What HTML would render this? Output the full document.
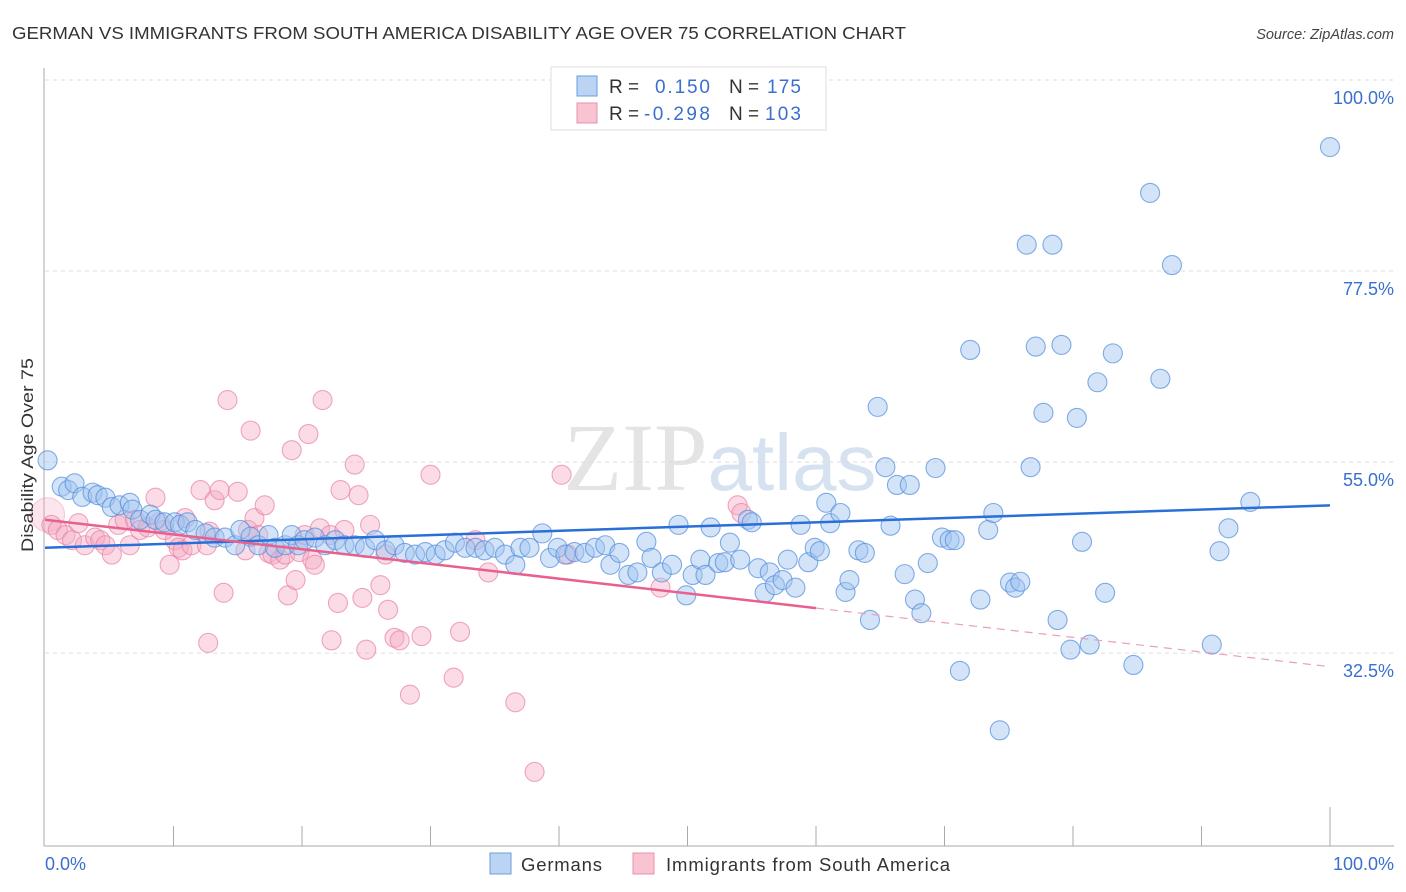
<!DOCTYPE html>
<html><head><meta charset="utf-8"><style>
body{margin:0;background:#fff;font-family:"Liberation Sans",sans-serif}
svg{display:block}
</style></head><body>
<svg id="chart" width="1406" height="892" xmlns="http://www.w3.org/2000/svg">
<text x="12" y="39" font-size="17.5" fill="#333" textLength="894" lengthAdjust="spacingAndGlyphs">GERMAN VS IMMIGRANTS FROM SOUTH AMERICA DISABILITY AGE OVER 75 CORRELATION CHART</text>
<text x="1394" y="39" font-size="14.5" fill="#444" font-style="italic" text-anchor="end">Source: ZipAtlas.com</text>
<text x="720" y="490" font-size="96" fill="#e4e4e4" text-anchor="middle" font-family="Liberation Serif, serif">ZIP<tspan fill="#d6e2f0" font-family="Liberation Sans, sans-serif" font-size="80">atlas</tspan></text>
<g id="grid"></g>
<g id="axes"></g>
<g id="pts"></g>
<g id="trends"></g>
<text transform="translate(33,455) rotate(-90)" font-size="17" fill="#333" text-anchor="middle" textLength="194" lengthAdjust="spacingAndGlyphs">Disability Age Over 75</text>
<text x="45" y="870" font-size="18" fill="#3a6fd0">0.0%</text>
<text x="1394" y="870" font-size="18" fill="#3a6fd0" text-anchor="end">100.0%</text>
<g>
<rect x="551" y="67" width="275" height="63" fill="#fff" stroke="#ddd"/>
<rect x="577" y="76" width="20" height="20" fill="#bcd4f4" stroke="#6a9ee0"/>
<rect x="577" y="103" width="20" height="20" fill="#f8c4d2" stroke="#e890ac"/>
<text x="609" y="93" font-size="19" fill="#333">R =</text>
<text x="655" y="93" font-size="19" fill="#3a6fd0" textLength="55">0.150</text>
<text x="729" y="93" font-size="19" fill="#333">N =</text>
<text x="767" y="93" font-size="19" fill="#3a6fd0" textLength="34">175</text>
<text x="609" y="120" font-size="19" fill="#333">R =</text>
<text x="644" y="120" font-size="19" fill="#3a6fd0" textLength="66">-0.298</text>
<text x="729" y="120" font-size="19" fill="#333">N =</text>
<text x="765" y="120" font-size="19" fill="#3a6fd0" textLength="36">103</text>
</g>
<g>
<rect x="490" y="853" width="21" height="21" fill="#bcd4f4" stroke="#6a9ee0"/>
<text x="521" y="871" font-size="18.5" fill="#333" textLength="81">Germans</text>
<rect x="633" y="853" width="21" height="21" fill="#f8c4d2" stroke="#e890ac"/>
<text x="666" y="871" font-size="18.5" fill="#333" textLength="284">Immigrants from South America</text>
</g>
</svg>
<script>
const yTicks=[100,77.5,55,32.5];
const yTickLabels=["100.0%","77.5%","55.0%","32.5%"];
const germanX=[0.2,1.3,1.8,2.3,2.9,3.7,4.1,4.7,5.2,5.8,6.6,6.8,7.4,8.2,8.6,9.3,10.1,10.5,11.1,11.7,12.5,13.2,14.0,14.8,15.2,16.0,16.6,17.4,17.9,18.7,19.2,19.7,20.2,21.0,21.8,22.6,23.3,24.1,24.9,25.7,26.5,27.2,28.0,28.8,29.6,30.4,31.1,31.9,32.7,33.5,34.2,35.0,35.8,36.6,37.0,37.7,38.7,39.3,39.9,40.5,41.2,42.0,42.8,43.6,44.0,44.7,45.4,46.1,46.8,47.2,48.0,48.8,49.3,49.9,50.4,51.0,51.4,51.8,52.4,52.9,53.3,54.1,54.7,55.0,55.5,56.0,56.4,56.8,57.4,57.8,58.4,58.8,59.4,59.9,60.3,60.8,61.1,61.9,62.3,62.6,63.3,63.8,64.2,64.8,65.4,65.8,66.3,66.9,67.3,67.7,68.2,68.7,69.3,69.8,70.4,70.8,71.2,72.0,72.8,73.4,73.8,74.3,75.1,75.5,75.9,76.4,76.7,77.1,77.7,78.4,78.8,79.1,79.8,80.3,80.7,81.3,81.9,82.5,83.1,84.7,86.0,86.8,87.7,90.8,91.4,92.1,93.8,100];
const germanY=[55.2,52.1,51.7,52.5,50.9,51.4,51.1,50.8,49.7,49.9,50.2,49.4,48.2,48.8,48.2,47.9,47.9,47.6,47.9,47.0,46.6,46.1,46.1,45.2,47.0,46.2,45.2,46.4,44.9,45.2,46.4,45.2,45.8,46.1,45.2,45.8,45.2,45.2,44.9,45.8,44.6,45.2,44.3,44.1,44.4,44.1,44.6,45.5,44.9,44.9,44.6,44.9,44.1,42.9,44.9,44.9,46.6,43.7,44.9,44.1,44.4,44.3,44.9,45.2,42.9,44.3,41.7,42.0,45.6,43.7,42.0,42.9,47.6,39.3,41.7,43.5,41.7,47.3,43.1,43.2,45.5,43.5,48.2,47.9,42.5,39.6,42.0,40.5,41.1,43.5,40.2,47.6,43.2,44.9,44.5,50.2,47.8,49.0,39.7,41.1,44.6,44.3,36.4,61.5,54.4,47.5,52.3,41.8,52.3,38.8,37.2,43.1,54.3,46.1,45.8,45.8,30.4,68.2,38.8,47.0,49.0,23.4,40.8,40.2,40.9,80.6,54.4,68.6,60.8,80.6,36.4,68.8,32.9,60.2,45.6,33.5,64.4,39.6,67.8,31.1,86.7,64.8,78.2,33.5,44.5,47.2,50.3,92.1];
const immX=[0.2,0.5,1.0,1.6,2.1,2.6,3.1,3.9,4.3,4.7,5.2,5.7,6.2,6.6,7.0,7.4,8.0,8.6,8.9,9.3,9.7,10.1,10.4,10.7,10.9,11.4,12.1,12.6,12.7,12.8,13.2,13.6,13.9,14.2,15.0,15.6,15.8,16.0,16.3,16.6,17.1,17.4,17.7,18.3,18.7,18.9,19.2,19.5,19.8,20.2,20.5,20.8,21.0,21.4,21.6,22.2,22.3,22.8,23.0,23.3,24.1,24.4,24.7,25.0,25.3,26.1,26.5,26.7,27.2,27.6,28.4,29.3,30.0,31.8,32.3,33.5,34.5,36.6,38.1,40.2,40.7,47.9,53.9,54.2];
const immY=[48.8,47.6,47.0,46.4,45.8,47.8,45.2,46.1,45.8,45.2,44.1,47.6,48.2,45.2,48.2,47.0,47.3,50.8,47.9,47.0,42.9,45.8,44.9,44.6,48.4,45.2,51.7,45.2,33.7,46.8,50.5,51.7,39.6,62.3,51.5,44.6,47.0,58.7,48.4,46.4,49.9,44.3,44.1,43.5,44.1,39.3,56.4,41.1,44.4,46.4,58.3,43.5,42.9,47.2,62.3,46.4,34.0,38.4,51.7,47.0,54.7,51.1,39.0,32.9,47.6,40.5,44.1,37.6,34.3,34.0,27.6,34.5,53.5,29.6,35.0,45.8,42.0,26.7,18.5,53.5,44.1,40.2,49.9,49.0];
const germanTrend=[44.9,49.9]; // at x=0 and x=100
const immTrend=[48.2,37.8,30.9]; // at x=0, 60, 100
const NS="http://www.w3.org/2000/svg";
const X=v=>45+v*12.85;
const Y=v=>80+(100-v)*8.49;
function mk(tag,attrs,parent){const e=document.createElementNS(NS,tag);for(const k in attrs)e.setAttribute(k,attrs[k]);parent.appendChild(e);return e;}
const grid=document.getElementById('grid'),axes=document.getElementById('axes'),pts=document.getElementById('pts'),tr=document.getElementById('trends');
yTicks.forEach((t,i)=>{
 const l=mk('line',{x1:45,x2:1394,y1:Y(t),y2:Y(t),stroke:'#ddd','stroke-dasharray':'4 4'},grid);
 
 
 const tx=mk('text',{x:1394,y:Y(t)+24,'font-size':18,fill:'#3a6fd0','text-anchor':'end'},grid);
 tx.textContent=yTickLabels[i];
 
 
});
const ya=mk('line',{x1:44,x2:44,y1:68,y2:846,stroke:'#aaa'},axes);


const xa=mk('line',{x1:44,x2:1394,y1:846,y2:846,stroke:'#aaa'},axes);


for(let i=1;i<=10;i++){
 const tk=mk('line',{x1:X(i*10),x2:X(i*10),y1:i==10?807:826,y2:846,stroke:'#aaa'},axes);
 
 
}
immX.forEach((x,i)=>{
 const c=mk('circle',{cx:X(x),cy:Y(immY[i]),r:i==0?17:9.5,fill:i==0?'rgba(244,168,192,0.3)':'rgba(244,168,192,0.4)',stroke:i==0?'rgba(232,130,165,0.35)':'rgba(232,130,165,0.7)','stroke-width':1.1},pts);
 
 
});
germanX.forEach((x,i)=>{
 const c=mk('circle',{cx:X(x),cy:Y(germanY[i]),r:9.5,fill:'rgba(160,196,240,0.45)',stroke:'rgba(80,140,220,0.7)','stroke-width':1.1},pts);
 
 
});
const gl=mk('line',{x1:X(0),y1:Y(germanTrend[0]),x2:X(100),y2:Y(germanTrend[1]),stroke:'#2a6fd8','stroke-width':2.5},tr);


const pl=mk('line',{x1:X(0),y1:Y(immTrend[0]),x2:X(60),y2:Y(immTrend[1]),stroke:'#e8608e','stroke-width':2.5},tr);


const pd=mk('line',{x1:X(60),y1:Y(immTrend[1]),x2:X(100),y2:Y(immTrend[2]),stroke:'#e8a0b8','stroke-width':1.2,'stroke-dasharray':'8 6'},tr);


</script>
</body></html>
